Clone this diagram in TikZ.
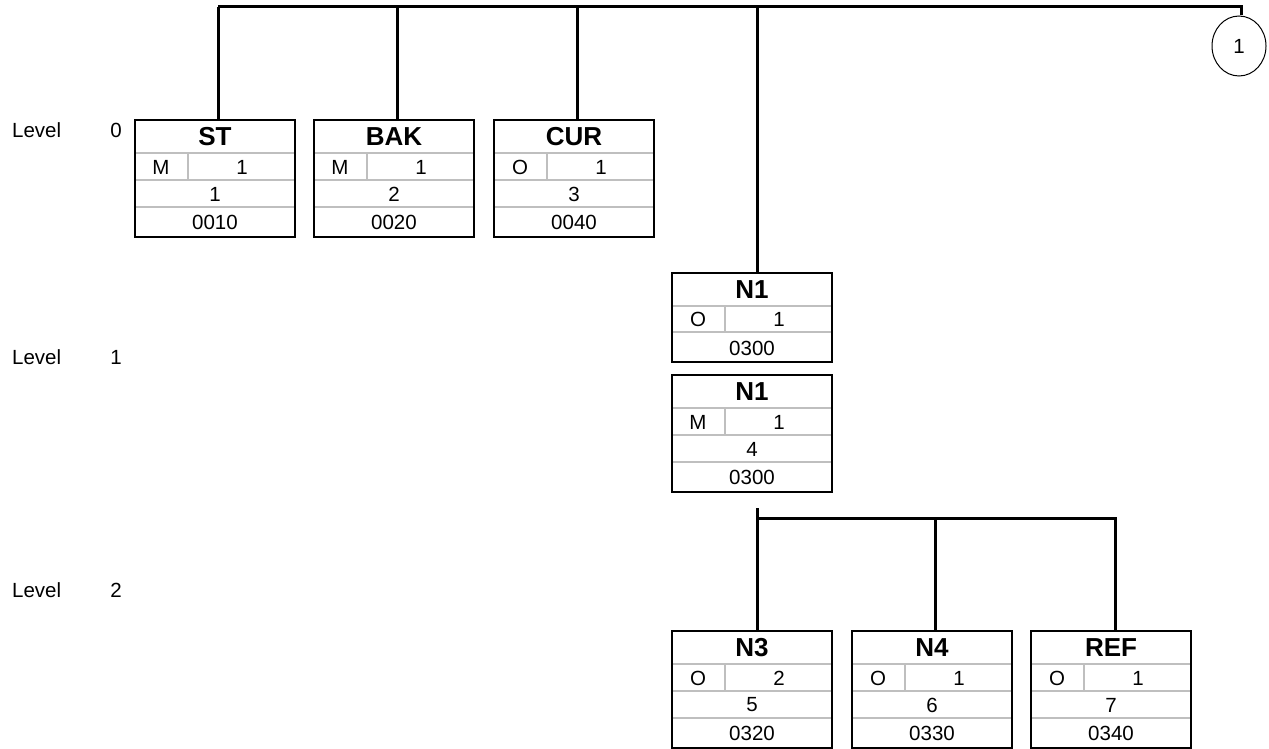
\documentclass[tikz,border=0pt]{standalone}
\usepackage{fontspec}
\setmainfont{Liberation Sans}
\usetikzlibrary{shapes.geometric}
\tikzset{
  conn/.style={line width=3pt},
  segframe/.style={draw, line width=2pt, minimum width=160pt, anchor=north west,
    inner sep=0pt, outer sep=0pt},
  cellrule/.style={draw=black!25, line width=1.4pt},
  tagtext/.style={font=\fontsize{26}{30}\selectfont\bfseries, inner sep=0pt},
  celltext/.style={font=\fontsize{20.5}{24}\selectfont, inner sep=0pt},
}
% segment box: name, left, top, tag, req, max use, position, seq
\newcommand{\segbox}[8]{%
  \draw[cellrule] (#2,{#3+33}) -- ({#2+160},{#3+33});
  \draw[cellrule] (#2,{#3+60}) -- ({#2+160},{#3+60});
  \draw[cellrule] (#2,{#3+87}) -- ({#2+160},{#3+87});
  \draw[cellrule] ({#2+53},{#3+33}) -- ({#2+53},{#3+60});
  \node[segframe, minimum height=117pt] (#1) at (#2,#3) {};
  \node[tagtext] (#1-tag) at ({#2+80},{#3+17}) {#4};
  \node[celltext] (#1-req) at ({#2+26},{#3+47}) {#5};
  \node[celltext] (#1-max) at ({#2+107},{#3+47}) {#6};
  \node[celltext] (#1-pos) at ({#2+80},{#3+74}) {#7};
  \node[celltext] (#1-seq) at ({#2+80},{#3+102}) {#8};
}
% loop header box: name, left, top, tag, req, max use, seq
\newcommand{\loopbox}[7]{%
  \draw[cellrule] (#2,{#3+33}) -- ({#2+160},{#3+33});
  \draw[cellrule] (#2,{#3+59}) -- ({#2+160},{#3+59});
  \draw[cellrule] ({#2+53},{#3+33}) -- ({#2+53},{#3+59});
  \node[segframe, minimum height=89pt] (#1) at (#2,#3) {};
  \node[tagtext] (#1-tag) at ({#2+80},{#3+17}) {#4};
  \node[celltext] (#1-req) at ({#2+26},{#3+46}) {#5};
  \node[celltext] (#1-max) at ({#2+107},{#3+46}) {#6};
  \node[celltext] (#1-seq) at ({#2+80},{#3+75}) {#7};
}
\begin{document}
\begin{tikzpicture}[x=1pt, y=-1pt]
  \useasboundingbox (0,0) rectangle (1269,749);
  % level labels
  \foreach \lv/\ly in {0/130,1/357,2/590} {
    \node[celltext, anchor=west] (lvl\lv) at (12,\ly) {Level};
    \node[celltext] (lvl\lv-n) at (116,\ly) {\lv};
  }
  % level 0
  \segbox{st}{135}{120}{ST}{M}{1}{1}{0010}
  \segbox{bak}{314}{120}{BAK}{M}{1}{2}{0020}
  \segbox{cur}{494}{120}{CUR}{O}{1}{3}{0040}
  % loop N1
  \loopbox{n1loop}{672}{273}{N1}{O}{1}{0300}
  \segbox{n1}{672}{375}{N1}{M}{1}{4}{0300}
  % level 2
  \segbox{n3}{672}{631}{N3}{O}{2}{5}{0320}
  \segbox{n4}{852}{631}{N4}{O}{1}{6}{0330}
  \segbox{ref}{1031}{631}{REF}{O}{1}{7}{0340}
  % continuation mark
  \node[draw, ellipse, line width=1pt, minimum width=54pt, minimum height=60pt,
    inner sep=0pt, font=\fontsize{20.5}{24}\selectfont] (cont) at (1239,46) {1};
  % top bus
  \coordinate (bus0) at (218,7);
  \draw[conn] (bus0) -| ([xshift=2pt]cont.north);
  \foreach \b in {st,bak,cur} {
    \draw[conn] ([xshift=3pt]\b.north) -- ([xshift=3pt]\b.north |- bus0);
  }
  \draw[conn] ([xshift=5pt]n1loop.north) -- ([xshift=5pt]n1loop.north |- bus0);
  % level 2 bus
  \coordinate (bus2top) at (757,508);
  \coordinate (bus2) at (757,518);
  \draw[conn] (bus2top) -- ([xshift=5pt]n3.north);
  \draw[conn] (bus2) -| ([xshift=4pt]ref.north);
  \draw[conn] ([xshift=3pt]n4.north |- bus2) -- ([xshift=3pt]n4.north);
\end{tikzpicture}
\end{document}
